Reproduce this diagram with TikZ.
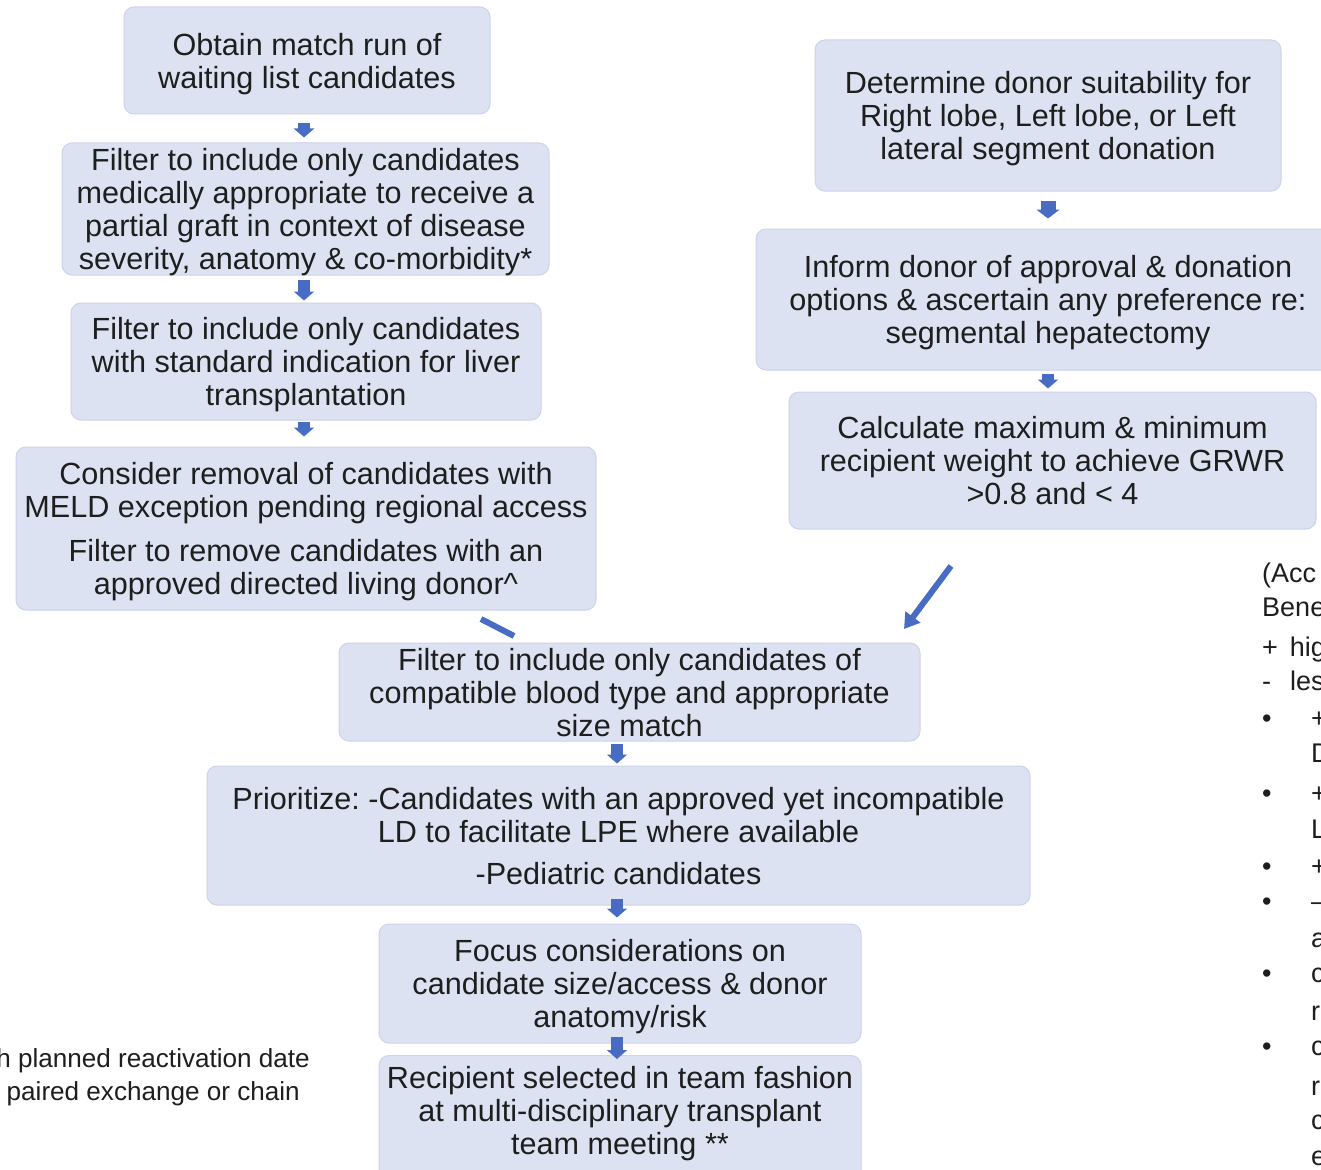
\documentclass[tikz,border=0pt]{standalone}
\usepackage{fontspec}
\setmainfont{Liberation Sans}
\usetikzlibrary{arrows.meta}
\frenchspacing
\definecolor{boxfill}{RGB}{220,226,242}
\definecolor{boxline}{RGB}{204,211,234}
\definecolor{arr}{RGB}{72,108,196}
\definecolor{txt}{RGB}{30,30,30}
\tikzset{
  flowbox/.style={draw=boxline, line width=1pt, fill=boxfill, rounded corners=10pt,
    inner sep=0pt, align=center, text=txt, text depth=0pt, font=\fontsize{30.6}{33}\selectfont},
  boxtext/.style={inner sep=0pt, align=center, text=txt, text depth=0pt, font=\fontsize{30.6}{33}\selectfont},
  blk/.style={draw=arr, line width=12pt, -{Triangle[width=20pt,length=9pt]}},
  blkwide/.style={draw=arr, line width=15pt, -{Triangle[width=23pt,length=9pt]}},
  diagline/.style={draw=arr, line width=6pt},
  diagarrow/.style={draw=arr, line width=6pt, -{Triangle[width=18pt,length=15pt]}},
  side/.style={inner sep=0pt, text=txt, font=\fontsize{27}{33}\selectfont},
  note/.style={inner sep=0pt, text=txt, font=\fontsize{26.1}{33}\selectfont},
}
\begin{document}
\begin{tikzpicture}[x=1pt,y=-1pt]
\useasboundingbox (0,0) rectangle (1321,1169);
\clip (0,0) rectangle (1321,1169);
\fill[white] (0,0) rectangle (1321,1169);

% left column
\node[flowbox, minimum width=366pt, minimum height=107pt] (b1) at (307,60.5)
  {Obtain match run of\\waiting list candidates};
\node[flowbox, minimum width=487pt, minimum height=132pt] (b2) at (305.5,209)
  {Filter to include only candidates\\medically appropriate to receive a\\partial graft in context of disease\\severity, anatomy \& co-morbidity*};
\node[flowbox, minimum width=470pt, minimum height=117pt] (b3) at (306,361.5)
  {Filter to include only candidates\\with standard indication for liver\\transplantation};
\node[flowbox, minimum width=580pt, minimum height=163pt] (b4) at (306,528.5)
  {Consider removal of candidates with\\MELD exception pending regional access\\[11pt]Filter to remove candidates with an\\approved directed living donor\^{}};

% center column
\node[flowbox, minimum width=581pt, minimum height=98pt] (b5) at (629.5,692)
  {Filter to include only candidates of\\compatible blood type and appropriate\\size match};
\node[flowbox, minimum width=823pt, minimum height=139pt] (b6) at (618.5,835.5)
  {Prioritize: -Candidates with an approved yet incompatible\\LD to facilitate LPE where available\\[9pt]-Pediatric candidates};
\node[flowbox, minimum width=482pt, minimum height=119pt] (b7) at (620,983.5)
  {Focus considerations on\\candidate size/access \& donor\\anatomy/risk};
\node[flowbox, minimum width=482pt, minimum height=130pt, anchor=north] (b8) at (620,1055) {};
\node[boxtext] (b8t) at (620,1110.5)
  {Recipient selected in team fashion\\at multi-disciplinary transplant\\team meeting **};

% right column
\node[flowbox, minimum width=466pt, minimum height=151pt] (b9) at (1048,115.5)
  {Determine donor suitability for\\Right lobe, Left lobe, or Left\\lateral segment donation};
\node[flowbox, minimum width=584pt, minimum height=141pt] (b10) at (1048,299.5)
  {Inform donor of approval \& donation\\options \& ascertain any preference re:\\segmental hepatectomy};
\node[flowbox, minimum width=527pt, minimum height=137pt] (b11) at (1052.5,460.5)
  {Calculate maximum \& minimum\\recipient weight to achieve GRWR\\>0.8 and < 4};

% block arrows
\draw[blk, shorten <=9pt, shorten >=5pt] ([xshift=-3pt]b1.south) -- ([xshift=-3pt]b1.south |- b2.north);
\draw[blk, shorten <=4pt, shorten >=2pt] ([xshift=-1.5pt]b2.south) -- ([xshift=-1.5pt]b2.south |- b3.north);
\draw[blk, shorten <=1pt, shorten >=10pt] ([xshift=-2pt]b3.south) -- ([xshift=-2pt]b3.south |- b4.north);
\draw[blk, shorten <=2pt, shorten >=2pt] ([xshift=-12.5pt]b5.south) -- ([xshift=-12.5pt]b5.south |- b6.north);
\draw[blk, shorten <=-7pt, shorten >=6pt] ([xshift=-1.5pt]b6.south) -- ([xshift=-1.5pt]b6.south |- b7.north);
\draw[blk, shorten <=-7pt, shorten >=-4pt] ([xshift=-3pt]b7.south) -- ([xshift=-3pt]b7.south |- b8.north);
\draw[blkwide, shorten <=9pt, shorten >=10pt] (b9.south) -- (b9.south |- b10.north);
\draw[blk, shorten <=3pt, shorten >=3pt] (b10.south) -- (b10.south |- b11.north);

% diagonal connectors
\coordinate (l1) at (481,619);
\coordinate (l2) at (514,636);
\draw[diagline] (l1) -- (l2);
\coordinate (r1) at (951,566);
\coordinate (r2) at (904,629);
\draw[diagarrow] (r1) -- (r2);

% bottom-left notes (cut off)
\node[note, anchor=base east] (n1) at (310,1067) {h planned reactivation date};
\node[note, anchor=base east] (n2) at (300,1100) {paired exchange or chain};

% right side notes (cut off)
\node[side, anchor=base west] (s1) at (1262,582) {(Acc};
\node[side, anchor=base west] (s2) at (1262,616) {Bene};
\node[side, anchor=base west] (s3) at (1262,656) {+\hspace{12pt}hig};
\node[side, anchor=base west] (s4) at (1262,690) {-\hspace{19pt}les};
\node[side, anchor=base west] (p1) at (1262,727) {•};
\node[side, anchor=base west] (q1) at (1311,727) {+};
\node[side, anchor=base west] (q1b) at (1311,762) {D};
\node[side, anchor=base west] (p2) at (1262,802) {•};
\node[side, anchor=base west] (q2) at (1311,802) {+};
\node[side, anchor=base west] (q2b) at (1311,838) {L};
\node[side, anchor=base west] (p3) at (1262,875) {•};
\node[side, anchor=base west] (q3) at (1311,875) {+};
\node[side, anchor=base west] (p4) at (1262,910) {•};
\node[side, anchor=base west] (q4) at (1311,910) {–};
\node[side, anchor=base west] (q4b) at (1311,947) {a};
\node[side, anchor=base west] (p5) at (1262,982) {•};
\node[side, anchor=base west] (q5) at (1311,982) {c};
\node[side, anchor=base west] (q5b) at (1311,1020) {r};
\node[side, anchor=base west] (p6) at (1262,1055) {•};
\node[side, anchor=base west] (q6) at (1311,1055) {c};
\node[side, anchor=base west] (q6b) at (1311,1095) {r};
\node[side, anchor=base west] (q6c) at (1311,1129) {c};
\node[side, anchor=base west] (q6d) at (1311,1165) {e};
\end{tikzpicture}
\end{document}
